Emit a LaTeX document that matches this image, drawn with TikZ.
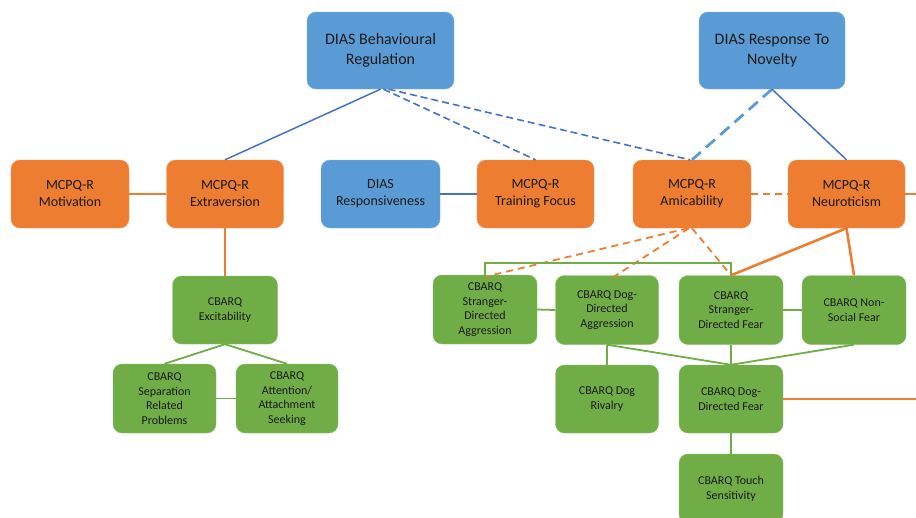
\documentclass[tikz,border=0pt]{standalone}
\usepackage{fontspec}
\setmainfont{Carlito}
\definecolor{bbox}{HTML}{5B9BD5}
\definecolor{obox}{HTML}{ED7D31}
\definecolor{gbox}{HTML}{70AD47}
\definecolor{bline}{HTML}{4472C4}
\definecolor{txt}{HTML}{1A1A1A}
\begin{document}
\begin{tikzpicture}[x=1pt,y=-1pt,
  base/.style={rounded corners=9pt, align=center, inner sep=0pt, text=txt},
  bluebox/.style={base, fill=bbox, draw=bbox!80!white, minimum width=147pt, minimum height=77pt, font=\fontsize{16}{20}\selectfont},
  orbox/.style={base, fill=obox, draw=obox!80!white, minimum width=118pt, minimum height=68pt, font=\fontsize{14}{17}\selectfont},
  orbbox/.style={orbox, fill=bbox, draw=bbox!80!white},
  grbox/.style={base, fill=gbox, draw=gbox!80!white, minimum width=104pt, minimum height=69pt, font=\fontsize{12}{14.6}\selectfont},
  bsolid/.style={draw=bline, line width=1.5pt},
  bdash/.style={draw=bline, line width=1.6pt, dash pattern=on 7pt off 4pt},
  bdashthick/.style={draw=bbox, line width=2.8pt, dash pattern=on 12pt off 7pt},
  osolid/.style={draw=obox, line width=1.8pt},
  othick/.style={draw=obox, line width=2.6pt},
  odash/.style={draw=obox, line width=1.8pt, dash pattern=on 7pt off 5pt},
  gline/.style={draw=gbox, line width=1.8pt},
]
\useasboundingbox (0,0) rectangle (916,517);
\begin{scope}
\clip (0,0) rectangle (916,517);
% nodes
\node[bluebox] (br) at (380.5,50.5) {DIAS Behavioural\\Regulation};
\node[bluebox, minimum width=146pt] (rtn) at (772,50.5) {DIAS Response To\\Novelty};
\node[orbox] (mot) at (70,194) {MCPQ-R\\Motivation};
\node[orbox, minimum width=117pt] (ext) at (225,194) {MCPQ-R\\Extraversion};
\node[orbbox, minimum width=119pt] (resp) at (380.5,194) {DIAS\\Responsiveness};
\node[orbox, minimum width=117pt] (tf) at (535.5,194) {MCPQ-R\\Training Focus};
\node[orbox] (ami) at (692,194) {MCPQ-R\\Amicability};
\node[orbox, minimum width=117pt] (neu) at (846.5,194) {MCPQ-R\\Neuroticism};
\node[grbox, minimum width=105pt, minimum height=68pt] (exc) at (225,310) {CBARQ\\Excitability};
\node[grbox, minimum width=103pt] (sep) at (164.5,398.5) {CBARQ\\Separation\\Related\\Problems};
\node[grbox, minimum width=102pt] (att) at (287,398.5) {CBARQ\\Attention/\\Attachment\\Seeking};
\node[grbox] (sda) at (485,309.5) {CBARQ\\Stranger-\\Directed\\Aggression};
\node[grbox, minimum width=103pt] (dda) at (607,310) {CBARQ Dog-\\Directed\\Aggression};
\node[grbox] (sdf) at (731,310) {CBARQ\\Stranger-\\Directed Fear};
\node[grbox] (nsf) at (854,310) {CBARQ Non-\\Social Fear};
\node[grbox, minimum width=103pt, minimum height=68pt] (dr) at (607,399) {CBARQ Dog\\Rivalry};
\node[grbox, minimum height=68pt] (ddf) at (731,399) {CBARQ Dog-\\Directed Fear};
\node[grbox] (ts) at (731,488.5) {CBARQ Touch\\Sensitivity};
\coordinate (edge1) at (918,194);
\coordinate (edge2) at (918,399);
% connectors
\draw[bsolid] (br.south) -- (ext.north);
\draw[bdash] ([xshift=3pt]br.south) -- (tf.north);
\draw[bdash] ([xshift=8pt]br.south) -- ([xshift=-2pt]ami.north);
\draw[bdashthick] (rtn.south) -- (ami.north);
\draw[bsolid] (rtn.south) -- (neu.north);
\draw[bsolid] (resp.east) -- (tf.west);
\draw[osolid] (mot.east) -- (ext.west);
\draw[osolid] (ext.south) -- (exc.north);
\draw[odash] (ami.east) -- (neu.west);
\draw[osolid] (neu.east) -- (edge1);
\draw[odash] ([xshift=-4pt]ami.south) -- ([yshift=-2pt]sda.north);
\draw[odash] ([xshift=-3pt]ami.south) -- ([xshift=6pt,yshift=-2pt]dda.north);
\draw[odash] (ami.south) -- (sdf.north);
\draw[othick] (neu.south) -- (sdf.north);
\draw[othick] (neu.south) -- (nsf.north);
\draw[gline] (exc.south) -- (sep.north);
\draw[gline] (exc.south) -- (att.north);
\draw[gline] (sep.east) -- (att.west);
\draw[gline] (sda.north) -- ++(0,-12) -| (sdf.north);
\draw[gline] (sda.east) -- (dda.west);
\draw[gline] (sdf.east) -- (nsf.west);
\draw[gline] (dda.south) -- (dr.north);
\draw[gline] (dda.south) -- (ddf.north);
\draw[gline] (sdf.south) -- (ddf.north);
\draw[gline] (nsf.south) -- (ddf.north);
\draw[gline] (ddf.south) -- (ts.north);
\draw[osolid] (ddf.east) -- (edge2);
\end{scope}
\end{tikzpicture}
\end{document}
